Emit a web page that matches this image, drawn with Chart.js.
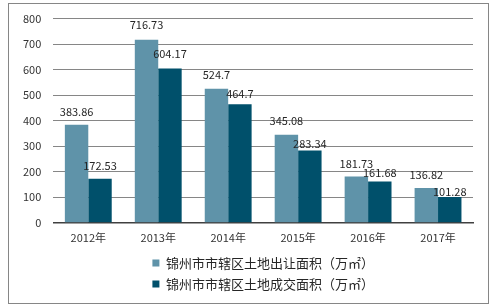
<!DOCTYPE html>
<html>
<head>
<meta charset="utf-8">
<script src="https://cdn.jsdelivr.net/npm/chart.js@4/dist/chart.umd.min.js"></script>
<style>
html,body{margin:0;padding:0;background:#fff;}
#wrap{position:relative;width:494px;height:307px;}
</style>
</head>
<body>
<div id="wrap"><canvas id="c" width="494" height="307"></canvas></div>
<script>
const categories = ['2012年','2013年','2014年','2015年','2016年','2017年'];
const seriesNames = ['锦州市市辖区土地出让面积（万㎡）','锦州市市辖区土地成交面积（万㎡）'];
const transferArea = [383.86, 716.73, 524.7, 345.08, 181.73, 136.82];
const dealArea = [172.53, 604.17, 464.7, 283.34, 161.68, 101.28];
const yTicks = [0,100,200,300,400,500,600,700,800];

const colors = ['#5f93a9','#00506b'];
const FONT = '"Noto Sans CJK SC", "Noto Sans", sans-serif';

// how far above each bar top the value label's centre sits (Excel nudged overlapping ones)
const labelLift = [[13,15,14,14,13,13],[13,14.5,10,7,9,5]];

const borderPlugin = {
  id:'outerBorder',
  beforeDraw(chart){
    const ctx = chart.ctx;
    ctx.save();
    ctx.fillStyle='#fff';
    ctx.fillRect(0,0,chart.width,chart.height);
    ctx.strokeStyle='#868686';
    ctx.lineWidth=1;
    ctx.strokeRect(8.5,3.5,480,300);
    ctx.restore();
  }
};

const valueLabels = {
  id:'valueLabels',
  afterDatasetsDraw(chart){
    const ctx = chart.ctx;
    ctx.save();
    ctx.font = '11px ' + FONT;
    ctx.fillStyle = '#262626';
    ctx.textAlign = 'center';
    ctx.textBaseline = 'middle';
    chart.data.datasets.forEach((ds, di) => {
      const meta = chart.getDatasetMeta(di);
      meta.data.forEach((bar, i) => {
        ctx.fillText(String(ds.data[i]), bar.x, bar.y - labelLift[di][i]);
      });
    });
    ctx.restore();
  }
};

new Chart(document.getElementById('c'), {
  type:'bar',
  data:{
    labels: categories,
    datasets:[
      {label: seriesNames[0], data: transferArea, backgroundColor: colors[0], categoryPercentage:0.67, barPercentage:1},
      {label: seriesNames[1], data: dealArea, backgroundColor: colors[1], categoryPercentage:0.67, barPercentage:1}
    ]
  },
  options:{
    responsive:false,
    animation:false,
    devicePixelRatio:1,
    layout:{padding:{left:11,right:21,top:7,bottom:6.5}},
    plugins:{
      legend:{
        position:'bottom',
        fullSize:false,
        labels:{
          boxWidth:7, boxHeight:7, padding:8,
          color:'#262626',
          font:{family:FONT, size:13}
        }
      },
      tooltip:{enabled:false}
    },
    scales:{
      x:{
        grid:{display:false, drawTicks:false},
        border:{display:true, color:'#404040', width:1.5},
        ticks:{color:'#333333', font:{family:FONT, size:11}, padding:8},
        afterFit(scale){ scale.height -= 3.5; }
      },
      y:{
        min:0, max:800,
        afterBuildTicks(axis){ axis.ticks = yTicks.map(v=>({value:v})); },
        grid:{color:'#868686', lineWidth:1, drawTicks:false},
        border:{display:false},
        ticks:{color:'#333333', font:{family:FONT, size:11}, padding:12}
      }
    }
  },
  plugins:[borderPlugin, valueLabels]
});
</script>
</body>
</html>
